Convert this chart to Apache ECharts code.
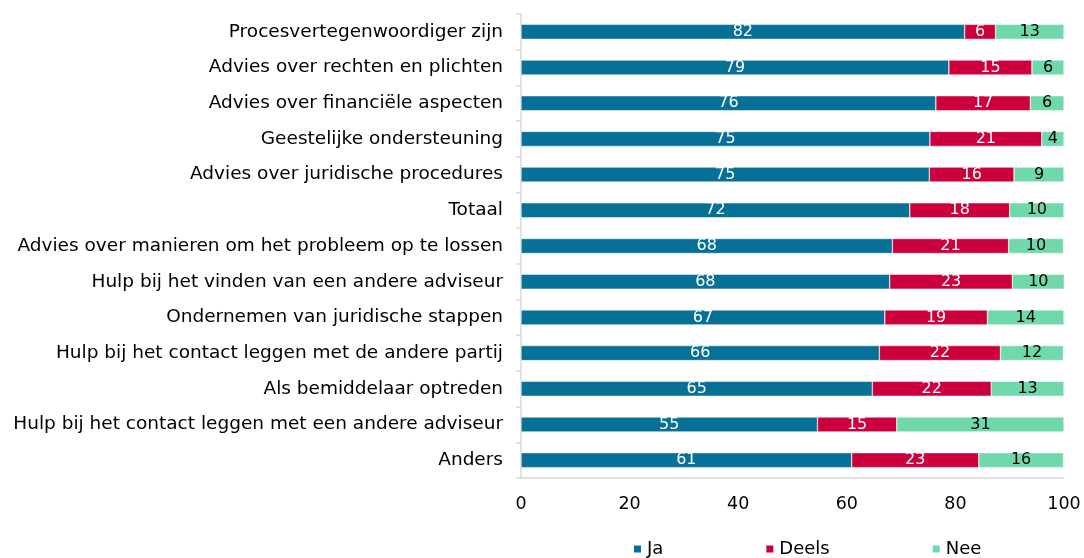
<!DOCTYPE html>
<html>
<head>
<meta charset="utf-8">
<script src="https://cdn.jsdelivr.net/npm/echarts@6/dist/echarts.min.js"></script>
<style>html,body{margin:0;padding:0;background:#fff;}#chart{width:1084px;height:558px;}</style>
</head>
<body>
<div id="chart"></div>
<script>
const categories = [
  "Procesvertegenwoordiger zijn",
  "Advies over rechten en plichten",
  "Advies over financiële aspecten",
  "Geestelijke ondersteuning",
  "Advies over juridische procedures",
  "Totaal",
  "Advies over manieren om het probleem op te lossen",
  "Hulp bij het vinden van een andere adviseur",
  "Ondernemen van juridische stappen",
  "Hulp bij het contact leggen met de andere partij",
  "Als bemiddelaar optreden",
  "Hulp bij het contact leggen met een andere adviseur",
  "Anders"
];
const ja    = [81.7, 78.8, 76.4, 75.3, 75.2, 71.6, 68.4, 67.9, 67.0, 66.0, 64.7, 54.6, 60.9];
const deels = [5.7, 15.3, 17.4, 20.6, 15.6, 18.4, 21.4, 22.6, 18.9, 22.3, 21.9, 14.6, 23.4];
const nee   = [12.6, 5.9, 6.2, 4.1, 9.2, 10.0, 10.1, 9.6, 14.1, 11.6, 13.4, 30.8, 15.6];
const xTicks = [0, 20, 40, 60, 80, 100];

const FONT = "DejaVu Sans";
const chart = echarts.init(document.getElementById('chart'));
function ser(name, data, color, labelColor) {
  return {
    name: name, type: 'bar', stack: 'total', data: data, barWidth: 15,
    itemStyle: { color: color, borderColor: '#ffffff', borderWidth: 0.5 },
    label: { show: true, position: 'inside', color: labelColor, fontFamily: FONT, fontSize: 16,
      formatter: p => Math.round(p.value) },
    emphasis: { disabled: true }
  };
}
chart.setOption({
  animation: false,
  textStyle: { fontFamily: FONT },
  grid: { left: 521, right: 20, top: 14, bottom: 80 },
  legend: {
    left: 627, top: 535, itemWidth: 9, itemHeight: 9, itemGap: 101, icon: 'rect',
    textStyle: { fontFamily: FONT, fontSize: 18, color: '#000' },
    data: ['Ja', 'Deels', 'Nee']
  },
  xAxis: {
    type: 'value', min: 0, max: 100, interval: 20,
    axisLine: { show: true, lineStyle: { color: '#d9d9d9', width: 1.5 } },
    axisTick: { show: false },
    splitLine: { show: false },
    axisLabel: { fontFamily: FONT, fontSize: 17.5, color: '#000', margin: 17,
      formatter: v => xTicks.includes(v) ? String(v) : '' }
  },
  yAxis: {
    type: 'category', inverse: true, data: categories,
    axisLine: { show: true, lineStyle: { color: '#d9d9d9', width: 1.5 } },
    axisTick: { show: true, length: 5, lineStyle: { color: '#d9d9d9', width: 1.5 } },
    axisLabel: { fontFamily: FONT, fontSize: 18.5, color: '#000', margin: 18 }
  },
  series: [
    ser('Ja', ja, '#077096', '#ffffff'),
    ser('Deels', deels, '#cc003c', '#ffffff'),
    ser('Nee', nee, '#70d9ab', '#000000')
  ]
});
</script>
</body>
</html>
